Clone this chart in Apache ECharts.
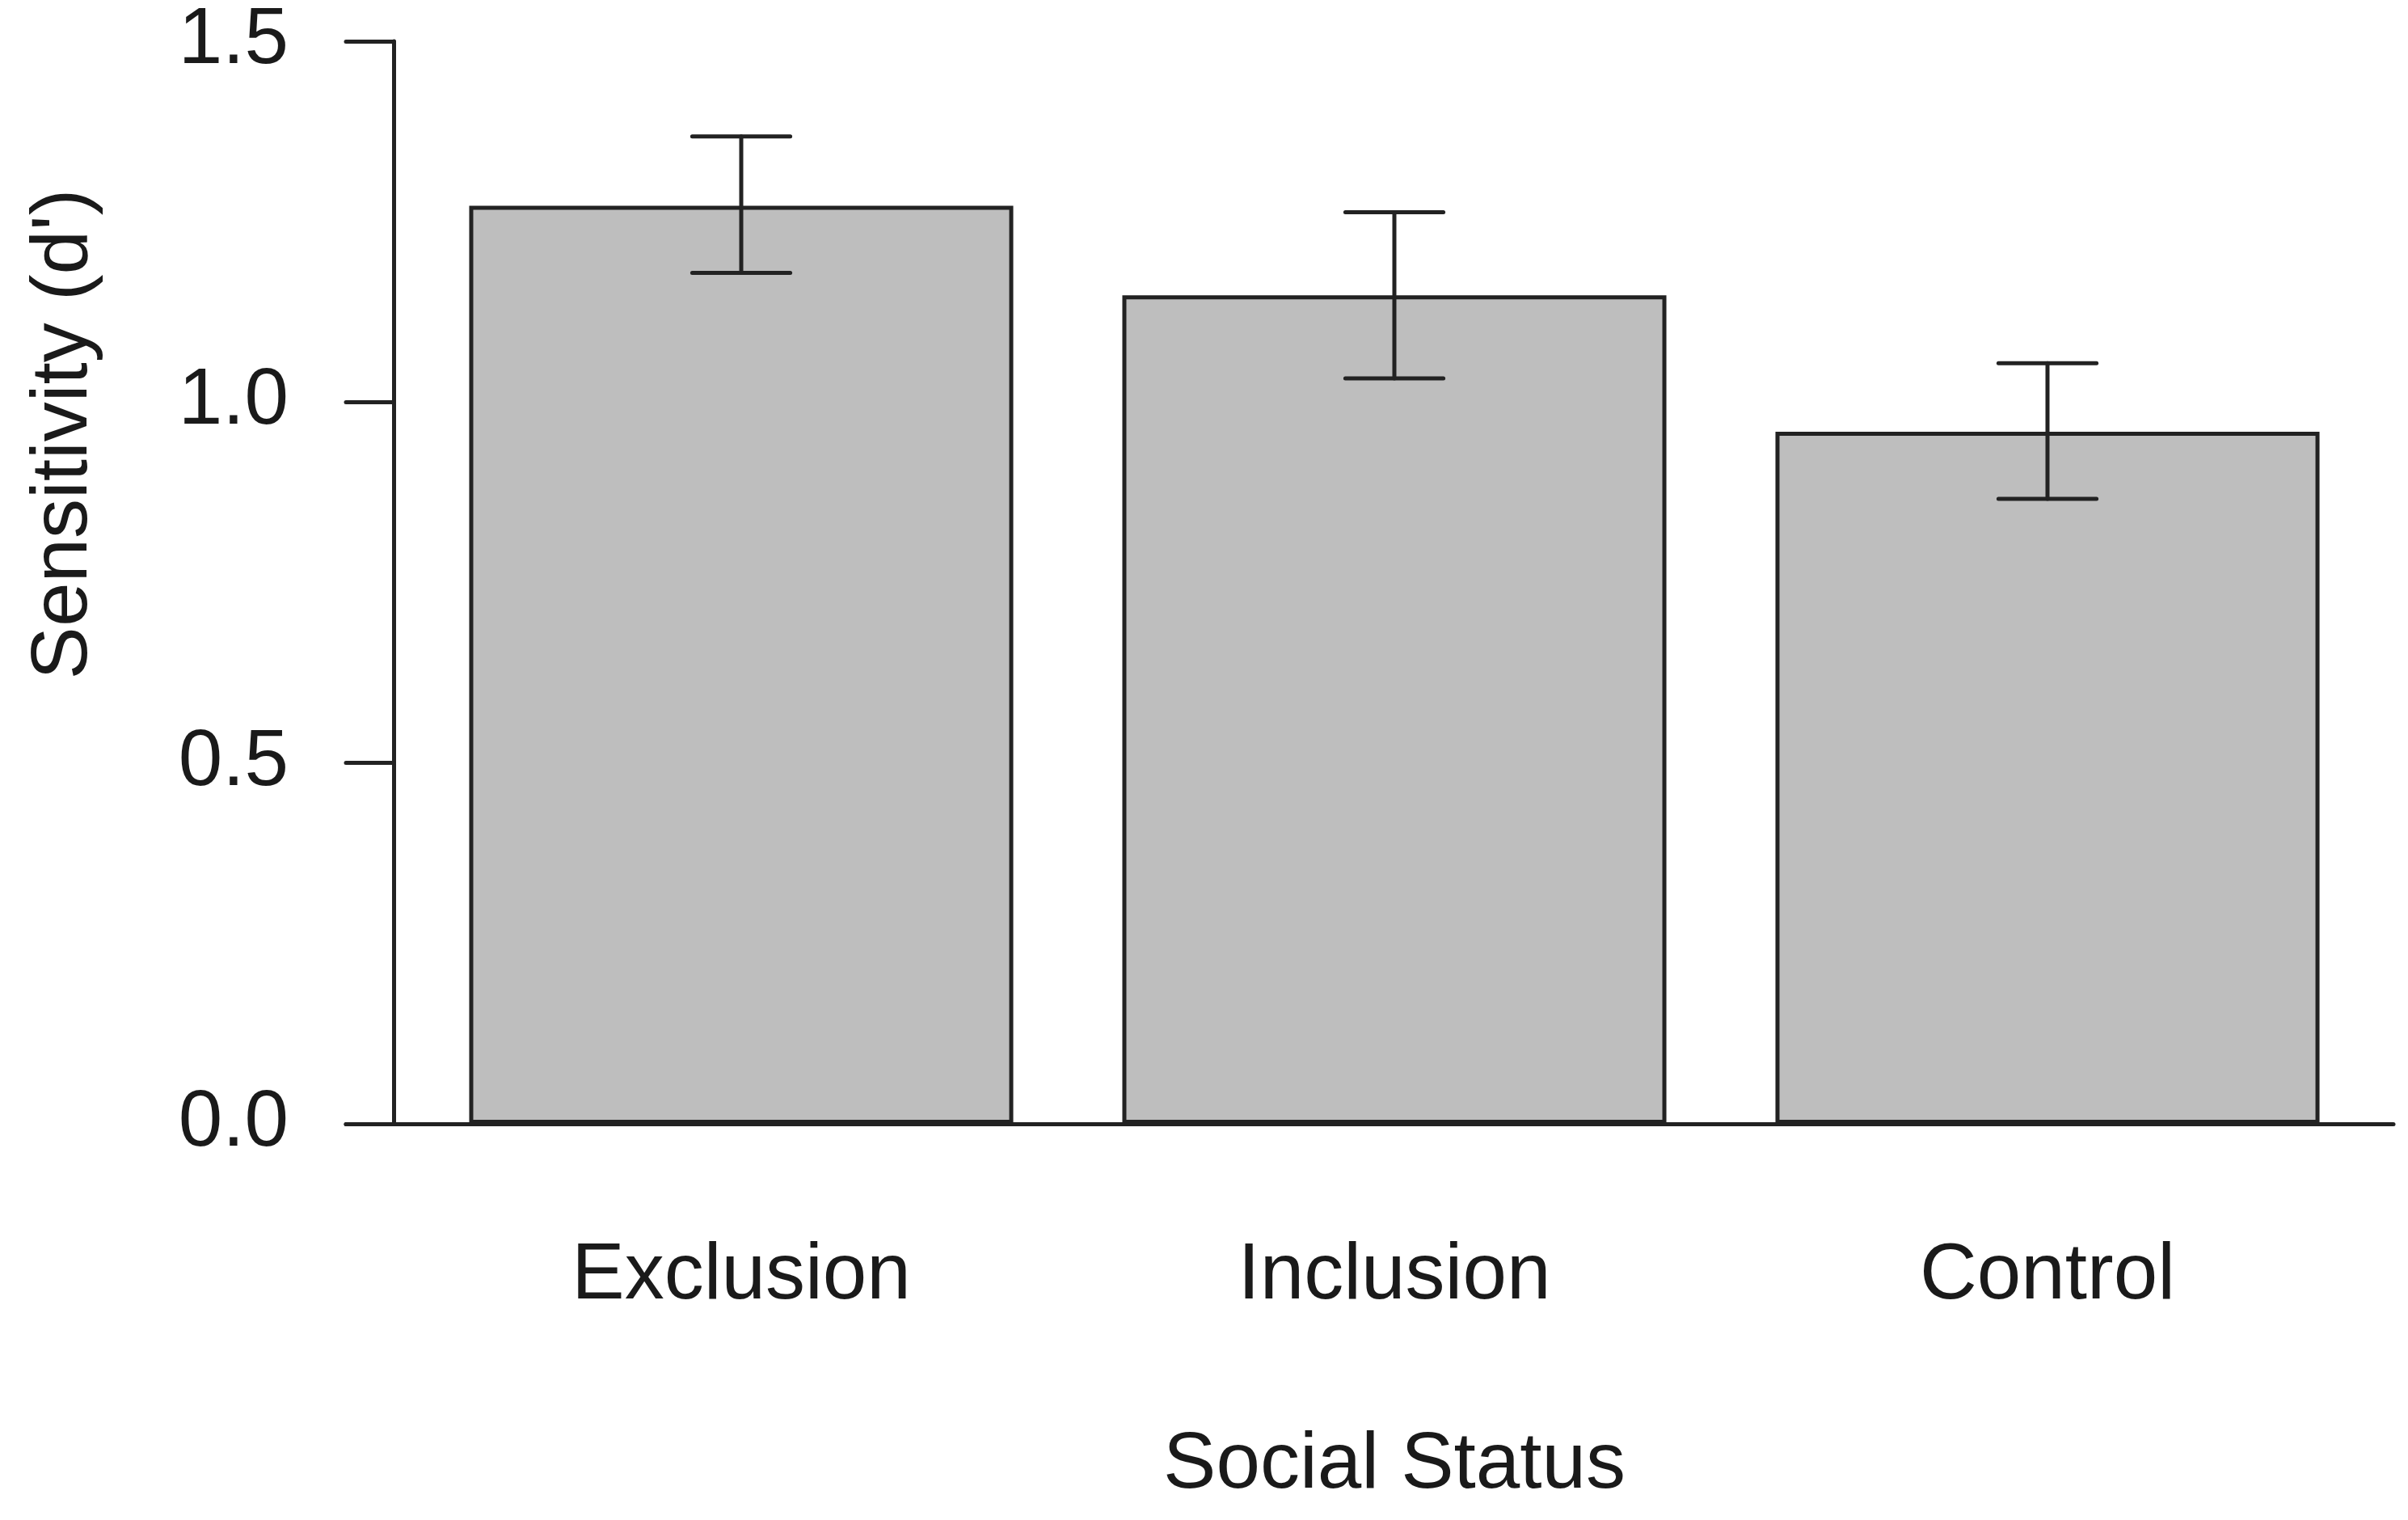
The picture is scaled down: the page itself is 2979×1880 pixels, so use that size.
<html>
<head>
<script src="https://cdn.jsdelivr.net/npm/echarts@6/dist/echarts.min.js"></script>
<style>
  html, body { margin: 0; padding: 0; background: #fff; }
</style>
</head>
<body>
<div id="main" style="width: 2979px;height:1880px;"></div>
<script type="text/javascript">
// data
var categories = ['Exclusion', 'Inclusion', 'Control'];
var meanValues = [1.272, 1.148, 0.959];
var upperValues = [1.368, 1.263, 1.054];
var lowerValues = [1.179, 1.033, 0.866];
var yTicks = [0, 0.5, 1.0, 1.5];

var ink = '#222222';
var textColor = '#1a1a1a';
var font = '"Liberation Sans", Arial, sans-serif';

var errorData = categories.map(function (c, i) {
    return [i, lowerValues[i], upperValues[i]];
});

var myChart = echarts.init(document.getElementById('main'));

var option = {
    backgroundColor: '#ffffff',
    animation: false,
    textStyle: { fontFamily: font },
    grid: [
        // plot region for the bars
        { left: 513, right: 42, top: 51, bottom: 490, outerBoundsMode: 'none', containLabel: false },
        // wider region, only used for the baseline that runs past the y axis
        { left: 428, right: 18, top: 51, bottom: 490, outerBoundsMode: 'none', containLabel: false }
    ],
    xAxis: [
        {
            type: 'category',
            gridIndex: 0,
            data: categories,
            axisLine: { show: false },
            axisTick: { show: false },
            axisLabel: {
                margin: 105,
                fontSize: 98,
                color: textColor,
                fontFamily: font
            },
            name: 'Social Status',
            nameLocation: 'middle',
            nameGap: 339,
            nameTextStyle: { fontSize: 98, color: textColor, fontFamily: font }
        },
        {
            type: 'value',
            gridIndex: 1,
            min: 0,
            max: 1,
            axisLine: { show: true, onZero: false, lineStyle: { color: ink, width: 5, cap: 'round' } },
            axisTick: { show: false },
            axisLabel: { show: false },
            splitLine: { show: false }
        }
    ],
    yAxis: [
        {
            type: 'value',
            gridIndex: 0,
            min: yTicks[0],
            max: yTicks[yTicks.length - 1],
            interval: yTicks[1] - yTicks[0],
            offset: 26,
            axisLine: { show: true, lineStyle: { color: ink, width: 5, cap: 'round' } },
            axisTick: { show: true, length: 59, lineStyle: { color: ink, width: 5, cap: 'round' } },
            splitLine: { show: false },
            axisLabel: {
                margin: 130,
                fontSize: 98,
                color: textColor,
                fontFamily: font,
                padding: [20, 0, 0, 0],
                formatter: function (v) { return v.toFixed(1); }
            }
        },
        {
            type: 'value',
            gridIndex: 1,
            show: false,
            min: 0,
            max: 1
        }
    ],
    graphic: [
        {
            type: 'text',
            x: 80,
            y: 537,
            rotation: Math.PI / 2,
            style: {
                text: "Sensitivity (d')",
                fontSize: 98,
                fontFamily: font,
                fill: textColor,
                textAlign: 'center',
                textVerticalAlign: 'middle'
            }
        }
    ],
    series: [
        {
            name: 'Sensitivity',
            type: 'bar',
            xAxisIndex: 0,
            yAxisIndex: 0,
            data: meanValues,
            barCategoryGap: '16.7%',
            itemStyle: {
                color: '#bebebe',
                borderColor: ink,
                borderWidth: 5
            },
            z: 2
        },
        {
            name: 'Error',
            type: 'custom',
            xAxisIndex: 0,
            yAxisIndex: 0,
            data: errorData,
            z: 5,
            renderItem: function (params, api) {
                var idx = api.value(0);
                var lo = api.coord([idx, api.value(1)]);
                var hi = api.coord([idx, api.value(2)]);
                var half = api.size([1, 0])[0] * 0.075;
                var style = { stroke: ink, lineWidth: 5, lineCap: 'round' };
                return {
                    type: 'group',
                    children: [
                        { type: 'line', shape: { x1: hi[0], y1: hi[1], x2: lo[0], y2: lo[1] }, style: style },
                        { type: 'line', shape: { x1: hi[0] - half, y1: hi[1], x2: hi[0] + half, y2: hi[1] }, style: style },
                        { type: 'line', shape: { x1: lo[0] - half, y1: lo[1], x2: lo[0] + half, y2: lo[1] }, style: style }
                    ]
                };
            }
        }
    ]
};

myChart.setOption(option);
</script>
</body>
</html>
